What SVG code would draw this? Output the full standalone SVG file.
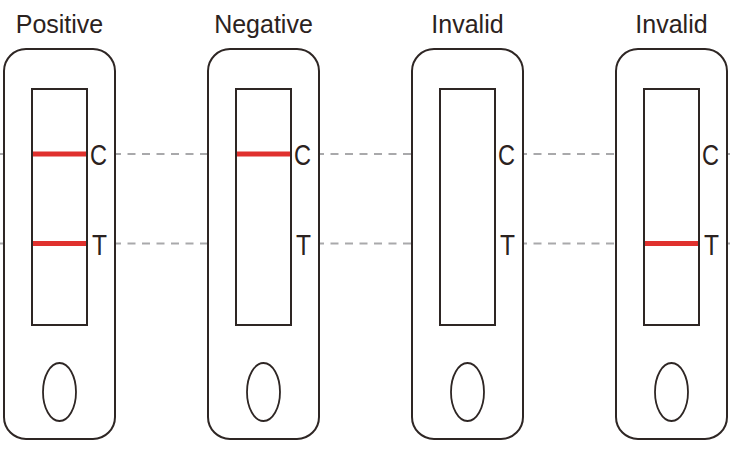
<svg xmlns="http://www.w3.org/2000/svg" width="732" height="450" viewBox="0 0 732 450">
<style>
.strip{fill:#fff;stroke:#2e2624;stroke-width:2}
.win{fill:#fff;stroke:#2e2624;stroke-width:2}
.hole{fill:#fff;stroke:#2e2624;stroke-width:1.8}
.band{stroke:#e0312e;stroke-width:5}
.dash{stroke:#a9a9ab;stroke-width:2;stroke-dasharray:8 6.5;fill:none}
.title{font-family:"Liberation Sans",Arial,sans-serif;font-size:25px;fill:#2b2220;text-anchor:middle}
.lbl{font-family:"Liberation Sans",Arial,sans-serif;font-size:30px;fill:#2b2220}
</style>
<rect width="732" height="450" fill="#fff"/>
<g id="connectors">
<path class="dash" d="M-3 154H732"/>
<path class="dash" d="M-3 243.5H732"/>
</g>
<g id="positive">
<text class="title" x="59.5" y="33">Positive</text>
<rect class="strip" x="4" y="49" width="111" height="390" rx="22"/>
<rect class="win" x="32" y="89" width="55" height="236"/>
<line class="band" x1="33" y1="154" x2="86" y2="154"/>
<line class="band" x1="33" y1="243.5" x2="86" y2="243.5"/>
<text class="lbl" x="90" y="165" textLength="17" lengthAdjust="spacingAndGlyphs">C</text>
<text class="lbl" x="92" y="255" textLength="15" lengthAdjust="spacingAndGlyphs">T</text>
<ellipse class="hole" cx="59.5" cy="392" rx="16.5" ry="29"/>
</g>
<g id="negative">
<text class="title" x="263.5" y="33">Negative</text>
<rect class="strip" x="208" y="49" width="111" height="390" rx="22"/>
<rect class="win" x="236" y="89" width="55" height="236"/>
<line class="band" x1="237" y1="154" x2="290" y2="154"/>
<text class="lbl" x="294" y="165" textLength="17" lengthAdjust="spacingAndGlyphs">C</text>
<text class="lbl" x="296" y="255" textLength="15" lengthAdjust="spacingAndGlyphs">T</text>
<ellipse class="hole" cx="263.5" cy="392" rx="16.5" ry="29"/>
</g>
<g id="invalid1">
<text class="title" x="467.5" y="33">Invalid</text>
<rect class="strip" x="412" y="49" width="111" height="390" rx="22"/>
<rect class="win" x="440" y="89" width="55" height="236"/>
<text class="lbl" x="498" y="165" textLength="17" lengthAdjust="spacingAndGlyphs">C</text>
<text class="lbl" x="500" y="255" textLength="15" lengthAdjust="spacingAndGlyphs">T</text>
<ellipse class="hole" cx="467.5" cy="392" rx="16.5" ry="29"/>
</g>
<g id="invalid2">
<text class="title" x="671.5" y="33">Invalid</text>
<rect class="strip" x="616" y="49" width="111" height="390" rx="22"/>
<rect class="win" x="644" y="89" width="55" height="236"/>
<line class="band" x1="645" y1="243.5" x2="698" y2="243.5"/>
<text class="lbl" x="702" y="165" textLength="17" lengthAdjust="spacingAndGlyphs">C</text>
<text class="lbl" x="704" y="255" textLength="15" lengthAdjust="spacingAndGlyphs">T</text>
<ellipse class="hole" cx="671.5" cy="392" rx="16.5" ry="29"/>
</g>
</svg>
